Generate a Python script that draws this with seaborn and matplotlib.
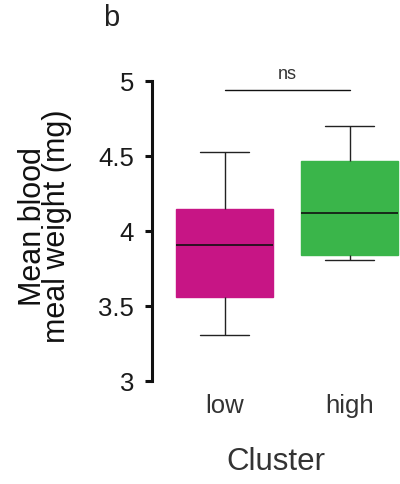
import numpy as np
import pandas as pd
import matplotlib
matplotlib.use("Agg")
import matplotlib.pyplot as plt
import seaborn as sns

# Box summary per cluster: min, Q1, median, Q3, max
clusters = ["low", "high"]
low_stats = [3.31, 3.56, 3.91, 4.15, 4.53]
high_stats = [3.81, 3.84, 4.12, 4.47, 4.70]
box_colors = ["#C71585", "#3AB54A"]
y_ticks = [3, 3.5, 4, 4.5, 5]
y_tick_labels = ["3", "3.5", "4", "4.5", "5"]
sig_label = "ns"
sig_level = 4.94

df = pd.DataFrame({
    "Cluster": ["low"] * len(low_stats) + ["high"] * len(high_stats),
    "weight": low_stats + high_stats,
})

sns.set_style("white")
plt.rcParams["font.family"] = ["Liberation Sans", "DejaVu Sans"]

fig = plt.figure(figsize=(4.0, 4.84), dpi=100)
ax = fig.add_axes([0.38, 0.2128, 0.62, 0.6198])

sns.boxplot(
    data=df, x="Cluster", y="weight", hue="Cluster", order=clusters,
    hue_order=clusters, palette=box_colors, saturation=1, width=0.776,
    whis=(0, 100), fliersize=0, linewidth=1.0, linecolor="#222222",
    medianprops=dict(color="#111111", linewidth=1.2),
    capprops=dict(color="#222222", linewidth=1.0),
    whiskerprops=dict(color="#222222", linewidth=1.0),
    legend=False, ax=ax,
)
for patch, c in zip(ax.patches, box_colors):
    patch.set_edgecolor(c)

ax.set_ylim(3, 5)
ax.set_xlim(-0.58, 1.404)
ax.set_yticks(y_ticks)
ax.set_yticklabels(y_tick_labels)

for side in ["top", "right", "bottom"]:
    ax.spines[side].set_visible(False)
ax.spines["left"].set_linewidth(2.2)
ax.spines["left"].set_color("#111111")
ax.tick_params(axis="y", length=5, width=2.2, color="#111111", labelsize=18.5,
               labelcolor="#1a1a1a", pad=8, left=True)
ax.tick_params(axis="x", length=0, labelsize=18.5, labelcolor="#333333", pad=9)

ax.set_xlabel("Cluster", fontsize=22.5, color="#333333", labelpad=21)
ax.set_ylabel("Mean blood\nmeal weight (mg)", fontsize=22, color="#111111",
              linespacing=0.74)
ax.yaxis.set_label_coords(-0.322, 0.515)

# significance bracket between the two clusters
ax.plot([0, 1], [sig_level, sig_level], color="#111111", lw=1.0, clip_on=False)
ax.text(0.5, sig_level + 0.05, sig_label, ha="center", va="bottom",
        fontsize=13, color="#333333")

fig.text(0.258, 0.962, "b", fontsize=21, color="#222222", ha="left", va="center")

fig.savefig("out.png", dpi=100)
